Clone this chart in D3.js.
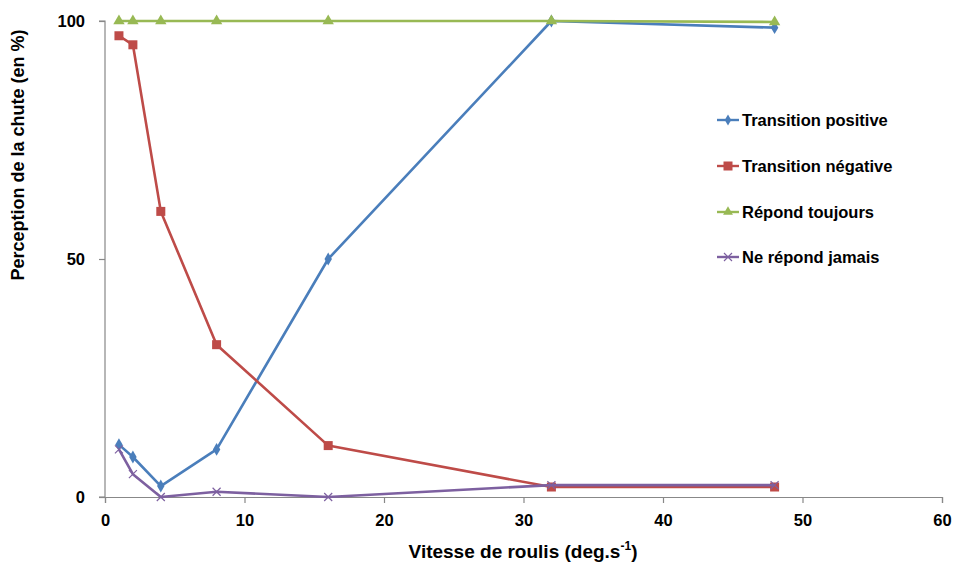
<!DOCTYPE html>
<html><head><meta charset="utf-8">
<script src="https://cdn.jsdelivr.net/npm/d3@7"></script>
<style>body{margin:0;background:#fff}svg text{font-family:"Liberation Sans",Arial,sans-serif;font-weight:bold;fill:#000}</style>
</head><body><svg id="c" width="955" height="562"></svg>
<script>
const xVals = [1, 2, 4, 8, 16, 32, 48];
const seriesNames = ["Transition positive", "Transition négative", "Répond toujours", "Ne répond jamais"];
const positive = [11, 8.4, 2.3, 10, 50, 100, 98.6];
const negative = [96.9, 95, 60, 32, 10.8, 2.1, 2.1];
const toujours = [100, 100, 100, 100, 100, 100, 99.8];
const jamais = [10, 4.8, 0, 1.1, 0, 2.5, 2.5];
const xTicks = [0, 10, 20, 30, 40, 50, 60];
const yTicks = [0, 50, 100];
const colors = ["#4A7EBB", "#BE4B48", "#98B954", "#7D60A0"];
const markers = ["diamond", "square", "triangle", "cross"];
const data = [positive, negative, toujours, jamais];

const svg = d3.select("#c");
const x = d3.scaleLinear().domain([0, 60]).range([105, 942]);
const y = d3.scaleLinear().domain([0, 100]).range([497, 21]);

const xAxis = svg.append("g").attr("transform", "translate(0,497)")
  .call(d3.axisBottom(x).tickValues(xTicks).tickSize(6).tickPadding(11));
const yAxis = svg.append("g").attr("transform", "translate(105,0)")
  .call(d3.axisLeft(y).tickValues(yTicks).tickSize(6).tickPadding(14));
[xAxis, yAxis].forEach(a => {
  a.select(".domain").attr("stroke", "#888").attr("stroke-width", 1.2);
  a.selectAll(".tick line").attr("stroke", "#888").attr("stroke-width", 1.2);
  a.selectAll(".tick text").style("font-size", "16.5px").style("font-family", "'Liberation Sans',Arial,sans-serif").style("font-weight", "bold").attr("fill", "#000");
});
yAxis.select(".domain").attr("d", "M-6,21H0V497H-6");

function marker(g, type, color, size) {
  if (type === "diamond") g.append("path").attr("d", d3.symbol(d3.symbolDiamond, size * 6)()).attr("fill", color);
  else if (type === "square") g.append("rect").attr("x", -4.5).attr("y", -4.5).attr("width", 9).attr("height", 9).attr("fill", color);
  else if (type === "triangle") g.append("path").attr("d", d3.symbol(d3.symbolTriangle, size * 7)()).attr("fill", color);
  else g.append("path").attr("d", "M-4,-4L4,4M-4,4L4,-4").attr("stroke", color).attr("stroke-width", 1.2).attr("fill", "none");
}

const line = d3.line().x((d, i) => x(xVals[i])).y(d => y(d));
data.forEach((vals, s) => {
  svg.append("path").datum(vals).attr("d", line).attr("fill", "none")
    .attr("stroke", colors[s]).attr("stroke-width", 2.6).attr("stroke-linejoin", "round");
  vals.forEach((v, i) => {
    const g = svg.append("g").attr("transform", `translate(${x(xVals[i])},${y(v)})`);
    marker(g, markers[s], colors[s], 8);
  });
});

const legY = [120, 166, 212, 257];
seriesNames.forEach((n, s) => {
  const g = svg.append("g").attr("transform", `translate(717,${legY[s]})`);
  g.append("line").attr("x1", 0).attr("x2", 22).attr("stroke", colors[s]).attr("stroke-width", 2.4);
  const m = g.append("g").attr("transform", "translate(11,0)");
  marker(m, markers[s], colors[s], 6);
  g.append("text").attr("x", 25).attr("y", 6).style("font-size", "16.5px").text(n);
});

const xt = svg.append("text").attr("x", 523).attr("y", 558).attr("text-anchor", "middle").style("font-size", "19px");
xt.append("tspan").text("Vitesse de roulis (deg.s");
xt.append("tspan").attr("dy", -8).style("font-size", "12px").text("-1");
xt.append("tspan").attr("dy", 8).text(")");

svg.append("text").attr("transform", "translate(24,155) rotate(-90)").attr("text-anchor", "middle")
  .style("font-size", "18px").text("Perception de la chute (en %)");
</script></body></html>
